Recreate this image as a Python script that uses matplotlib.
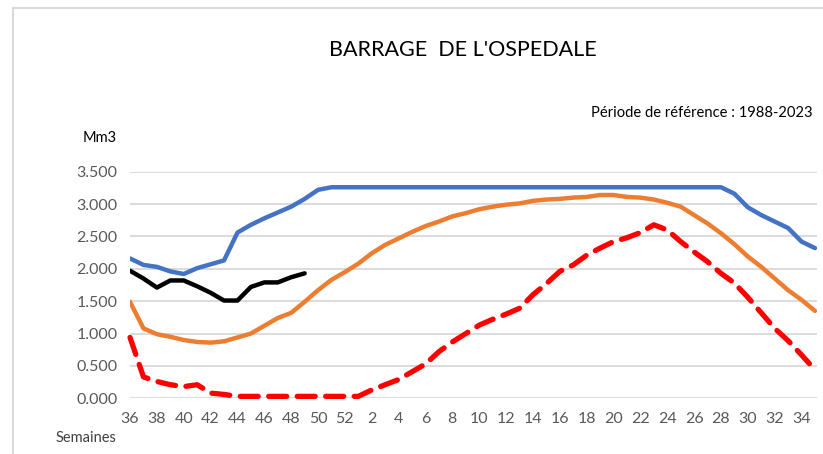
import matplotlib
matplotlib.use("Agg")
import matplotlib.pyplot as plt
from matplotlib.patches import Rectangle

plt.rcParams['font.family'] = ['Lato', 'DejaVu Sans']

# weeks of the hydrological year: 36..52 then 1..35
weeks = list(range(36, 53)) + list(range(1, 36))

# maximum over the reference period (Mm3)
v_max = [2.16, 2.06, 2.03, 1.96, 1.92, 2.01, 2.07, 2.13, 2.56, 2.68,
         2.78, 2.87, 2.96, 3.08, 3.22, 3.26, 3.26, 3.26, 3.26, 3.26,
         3.26, 3.26, 3.26, 3.26, 3.26, 3.26, 3.26, 3.26, 3.26, 3.26,
         3.26, 3.26, 3.26, 3.26, 3.26, 3.26, 3.26, 3.26, 3.26, 3.26,
         3.26, 3.26, 3.26, 3.26, 3.26, 3.16, 2.95, 2.83, 2.73, 2.63,
         2.42, 2.32]

# mean over the reference period
v_mean = [1.49, 1.08, 0.99, 0.95, 0.90, 0.87, 0.86, 0.88, 0.94, 1.00,
          1.12, 1.24, 1.32, 1.49, 1.67, 1.83, 1.95, 2.08, 2.24, 2.37,
          2.47, 2.57, 2.66, 2.73, 2.81, 2.86, 2.92, 2.96, 2.99, 3.01,
          3.05, 3.07, 3.08, 3.10, 3.11, 3.14, 3.14, 3.11, 3.10, 3.07,
          3.02, 2.96, 2.83, 2.70, 2.55, 2.38, 2.19, 2.03, 1.85, 1.67,
          1.52, 1.35]

# minimum over the reference period
v_min = [0.94, 0.33, 0.26, 0.21, 0.18, 0.21, 0.08, 0.06, 0.03, 0.03,
         0.03, 0.03, 0.03, 0.03, 0.03, 0.03, 0.03, 0.03, 0.13, 0.21,
         0.29, 0.41, 0.53, 0.72, 0.87, 1.00, 1.13, 1.22, 1.30, 1.39,
         1.60, 1.77, 1.96, 2.06, 2.21, 2.32, 2.42, 2.48, 2.56, 2.68,
         2.60, 2.42, 2.26, 2.11, 1.93, 1.78, 1.56, 1.32, 1.08, 0.89,
         0.67, 0.44]

# current season so far
v_current = [1.97, 1.85, 1.71, 1.82, 1.82, 1.73, 1.63, 1.51, 1.51, 1.72,
             1.79, 1.79, 1.87, 1.93]

fig = plt.figure(figsize=(8.23, 4.54), dpi=100)
ax = fig.add_axes([0.158, 0.1227, 0.8347, 0.4991])

x = list(range(len(weeks)))
ax.plot(x, v_max, color='#4472C4', lw=3.2, solid_capstyle='round', zorder=3)
ax.plot(x, v_mean, color='#ED7D31', lw=3.2, solid_capstyle='round', zorder=3)
ax.plot(x, v_min, color='#FF0000', lw=3.8, ls=(0, (3.4, 2.0)),
        dash_capstyle='round', zorder=3, clip_on=False)
ax.plot(range(len(v_current)), v_current, color='black', lw=3.2,
        solid_capstyle='round', zorder=4)

ax.set_xlim(0, 51.15)
ax.set_ylim(0, 3.5)
ax.set_yticks([i * 0.5 for i in range(8)])
ax.set_yticklabels([f'{i * 0.5:.3f}' for i in range(8)])
ax.set_xticks(x[::2])
ax.set_xticklabels([str(w) for w in weeks[::2]])
ax.grid(axis='y', color='#D9D9D9', lw=1.3)
ax.set_axisbelow(True)
for s in ax.spines.values():
    s.set_visible(False)
ax.tick_params(length=0, labelsize=11.5, labelcolor='#595959')
ax.tick_params(axis='y', pad=9)
ax.tick_params(axis='x', pad=10)

fig.text(0.5626, 0.89, "BARRAGE  DE L'OSPEDALE", ha='center', va='center',
         fontsize=15.5, color='black')
fig.text(0.987, 0.751, 'Période de référence : 1988-2023', ha='right',
         va='center', fontsize=10.6, color='black')
fig.text(0.1215, 0.696, 'Mm3', ha='center', va='center', fontsize=10.5,
         color='black')
fig.text(0.105, 0.035, 'Semaines', ha='center', va='center', fontsize=10.5,
         color='#404040')

# light frame around the chart area
fig.patches.append(Rectangle((13 / 823, -0.05), 1.0, 1.05 - 8 / 454,
                             transform=fig.transFigure, fill=False,
                             edgecolor='#D9D9D9', lw=1.5))

fig.savefig('out.png', dpi=100)
